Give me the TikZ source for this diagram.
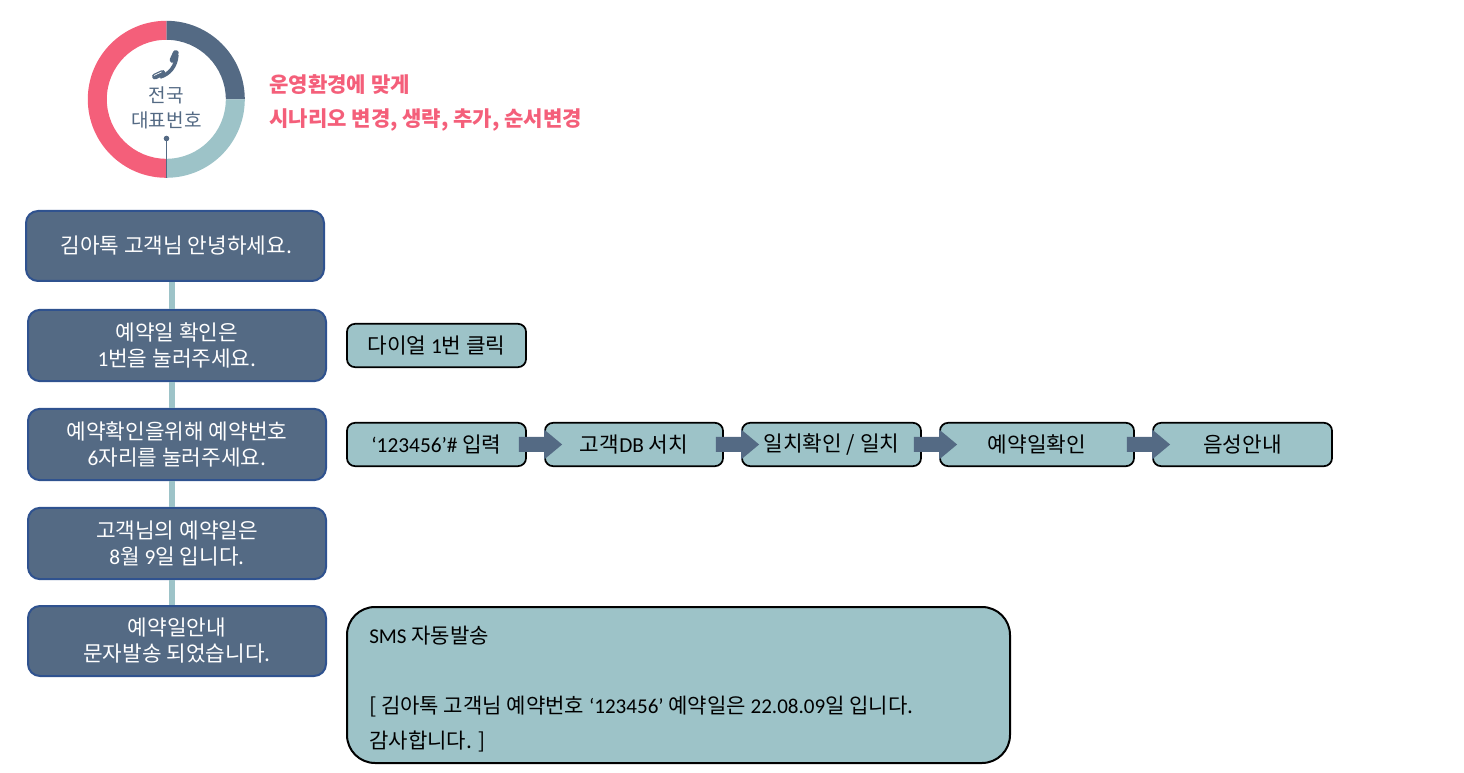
\documentclass[tikz,border=0pt]{standalone}
\usepackage{fontspec}
\setmainfont{Noto Sans CJK KR}
\newfontfamily\lat{Carlito}
\usetikzlibrary{calc}
\definecolor{navy}{HTML}{546A84}
\definecolor{teal2}{HTML}{9DC3C8}
\definecolor{pink2}{HTML}{F45F7A}
\definecolor{edgeblue}{HTML}{2F528F}
\tikzset{
  flow/.style={draw=edgeblue,line width=1.5pt,fill=navy,rounded corners=9pt,text=white,align=center,inner sep=0pt,
    font=\fontsize{16}{19.5}\selectfont,minimum width=223.5pt,minimum height=53.5pt},
  act/.style={draw=black,line width=1.3pt,fill=teal2,rounded corners=6pt,text=black,align=center,inner sep=0pt,
    font=\fontsize{16}{18}\selectfont,minimum height=32.5pt},
  link/.style={draw=teal2,line width=4.5pt},
  head/.style={text=pink2,anchor=west,inner sep=0pt,font=\fontsize{15.8}{18}\selectfont\bfseries},
  hub/.style={text=navy,align=center,inner sep=0pt,font=\fontsize{14.3}{19}\selectfont},
}
\newcommand{\blockarrow}[2]{%
  \fill[navy] ($(#1.east)+(-8,-7.5)$) -- ($(#2.west)+(0,-7.5)$) -- ($(#2.west)+(0,-15)$)
    -- ($(#2.west)+(18,0)$) -- ($(#2.west)+(0,15)$) -- ($(#2.west)+(0,7.5)$) -- ($(#1.east)+(-8,7.5)$) -- cycle;}
\begin{document}
\begin{tikzpicture}[x=0.75pt,y=-0.75pt]
\useasboundingbox (0,0) rectangle (1464,773);
% ring
\coordinate (c) at (166.3,99.3);
\begin{scope}[shift={(c)},yscale=-1]
\fill[navy] (0,78.5) arc[start angle=90,end angle=0,radius=78.5] -- (59.5,0) arc[start angle=0,end angle=90,radius=59.5] -- cycle;
\fill[teal2] (78.5,0) arc[start angle=0,end angle=-90,radius=78.5] -- (0,-59.5) arc[start angle=-90,end angle=0,radius=59.5] -- cycle;
\fill[pink2] (0,-78.5) arc[start angle=270,end angle=90,radius=78.5] -- (0,59.5) arc[start angle=90,end angle=270,radius=59.5] -- cycle;
\end{scope}
% stem
\fill[navy] (166.5,138.5) circle[radius=2.8];
\draw[navy,line width=1pt] (166.5,138.5) -- (166.5,178);
% handset
\draw[navy,line width=2.8pt] (176.8,55) .. controls (176,66) and (170,74) .. (160,77);
\draw[navy,line width=4.4pt,line cap=round] (175.8,53) -- (172.6,60);
\draw[navy,line width=4.4pt,line cap=round] (155,76.5) -- (162.5,73);
\draw[white,line width=0.5pt] (154,75.5) -- (161.5,72);
% hub text
\node[hub] (hubtext) at (166.5,108) {전국\\대표번호};
% heading
\node[head] (h1) at (269,84.5) {운영환경에 맞게};
\node[head] (h2) at (269,120) {시나리오 변경, 생략, 추가, 순서변경};
% spine x
\coordinate (spine) at (171.5,0);
% flow
\node[flow,minimum height=52.5pt] (a) at (175,246) {\hspace*{2pt}김아톡 고객님 안녕하세요.};
\node[flow] (b) at (177,345.5) {예약일 확인은\\{\lat 1}번을 눌러주세요.};
\node[flow] (d) at (177,444.5) {예약확인을위해 예약번호\\{\lat 6}자리를 눌러주세요.};
\node[flow] (e) at (177,543.5) {고객님의 예약일은\\{\lat 8}월 {\lat 9}일 입니다.};
\node[flow,minimum height=52.5pt] (f) at (177,641) {예약일안내\\문자발송 되었습니다.};
\foreach \p/\q in {a/b,b/d,d/e,e/f}
  \draw[link] (spine |- \p.south) -- (spine |- \q.north);
% actions
\node[act,minimum width=134.25pt] (s1) at (436.5,345.5) {다이얼 {\lat 1}번 클릭};
\node[act,minimum width=134.25pt] (r1) at (436.5,444.5) {{\lat ‘123456’\#} 입력};
\node[act,minimum width=133.5pt] (r2) at (634,444.5) {고객{\lat DB} 서치};
\node[act,minimum width=134.25pt] (r3) at (831.5,444.5) {일치확인 / 일치};
\node[act,minimum width=145.5pt] (r4) at (1037,444.5) {예약일확인};
\node[act,minimum width=134.25pt] (r5) at (1242.5,444.5) {음성안내};
\blockarrow{r1}{r2}
\blockarrow{r2}{r3}
\blockarrow{r3}{r4}
\blockarrow{r4}{r5}
% sms
\node[draw=black,line width=1.5pt,fill=teal2,rounded corners=21pt,minimum width=497.25pt,minimum height=117pt,inner sep=0pt] (sms) at (678.5,685) {};
\node[anchor=north west,inner sep=0pt,align=left,text=black,font=\fontsize{15.8}{26.25}\selectfont] (smstext) at (369,625.5)
 {{\lat SMS} 자동발송\\\mbox{}\\{[} 김아톡 고객님 예약번호 {\lat ‘123456’} 예약일은 {\lat 22.08.09}일 입니다.\\감사합니다. {]}};
\end{tikzpicture}
\end{document}
